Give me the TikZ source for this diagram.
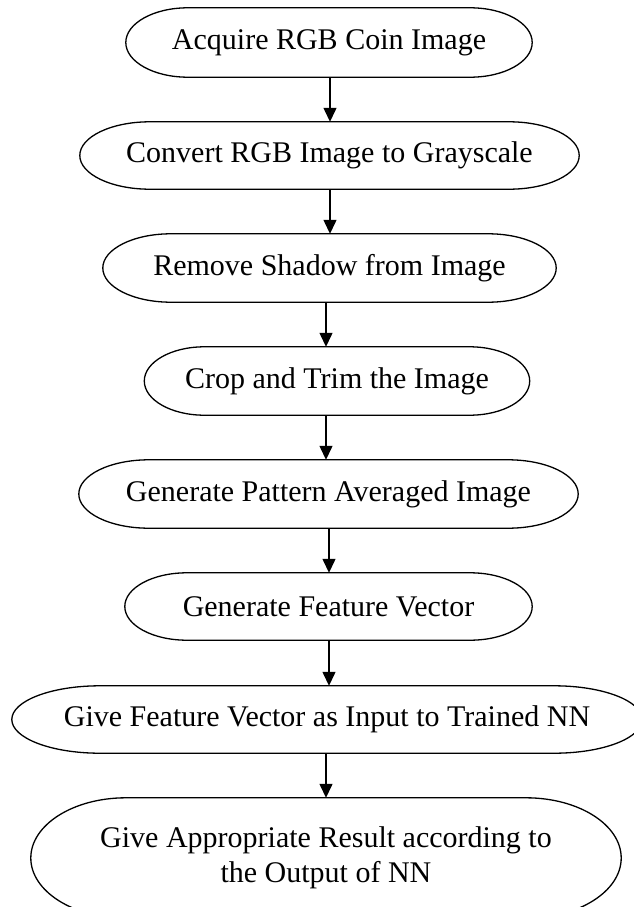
\documentclass[tikz,border=0pt]{standalone}
\usepackage{fontspec}
\setmainfont{Liberation Serif}
\usepackage{tikz}
\usetikzlibrary{arrows.meta,calc}

% outline with half-ellipse ends round a node: #1 = node, #2 = end radius
\newcommand{\drawcapsule}[2]{%
  \draw[line width=1.3pt] let \p1=(#1.north west), \p2=(#1.south east), \n1={(\y1-\y2)/2} in
    (\x1+#2pt,\y1) -- (\x2-#2pt,\y1)
    arc[start angle=90,end angle=-90,x radius=#2pt,y radius=\n1]
    -- (\x1+#2pt,\y2)
    arc[start angle=270,end angle=90,x radius=#2pt,y radius=\n1] -- cycle;}

\tikzset{
  stepbox/.style={shape=rectangle,inner sep=0pt,align=center,
    font=\fontsize{30}{35}\selectfont}
}

\begin{document}
\begin{tikzpicture}[x=1pt,y=1pt,>={Triangle[length=14pt,width=13pt]}]
\useasboundingbox (0,0) rectangle (634,-907);

% Steps
\node[stepbox,minimum width=406,minimum height=69] (acquire) at (329,-42.5) {Acquire RGB Coin Image};
\node[stepbox,minimum width=499,minimum height=67] (convert) at (329.5,-155.5) {Convert RGB Image to Grayscale};
\node[stepbox,minimum width=453,minimum height=68] (shadow) at (329.5,-268) {Remove Shadow from Image};
\node[stepbox,minimum width=385,minimum height=68] (crop) at (337,-381) {Crop and Trim the Image};
\node[stepbox,minimum width=499,minimum height=68] (pattern) at (328.5,-494) {Generate Pattern Averaged Image};
\node[stepbox,minimum width=407,minimum height=67] (feature) at (328.5,-606.5) {Generate Feature Vector};
\node[stepbox,minimum width=630,minimum height=67] (input) at (327,-719.5) {Give Feature Vector as Input to Trained NN};
\node[stepbox,minimum width=590,minimum height=120] (result) at (326,-858) {Give Appropriate Result according to\\the Output of NN};

\drawcapsule{acquire}{62}
\drawcapsule{convert}{70}
\drawcapsule{shadow}{68}
\drawcapsule{crop}{60}
\drawcapsule{pattern}{70}
\drawcapsule{feature}{62}
\drawcapsule{input}{88}
\drawcapsule{result}{95}

% Arrows (\d = small sideways shift)
\foreach \a/\b/\d in {acquire/convert/1,convert/shadow/1,shadow/crop/-3,crop/pattern/-3,pattern/feature/0,feature/input/0,input/result/-3}
  \draw[->,line width=1.3pt] ([xshift=\d pt]\a.south -| acquire) -- ([xshift=\d pt]\b.north -| acquire);
\end{tikzpicture}
\end{document}
